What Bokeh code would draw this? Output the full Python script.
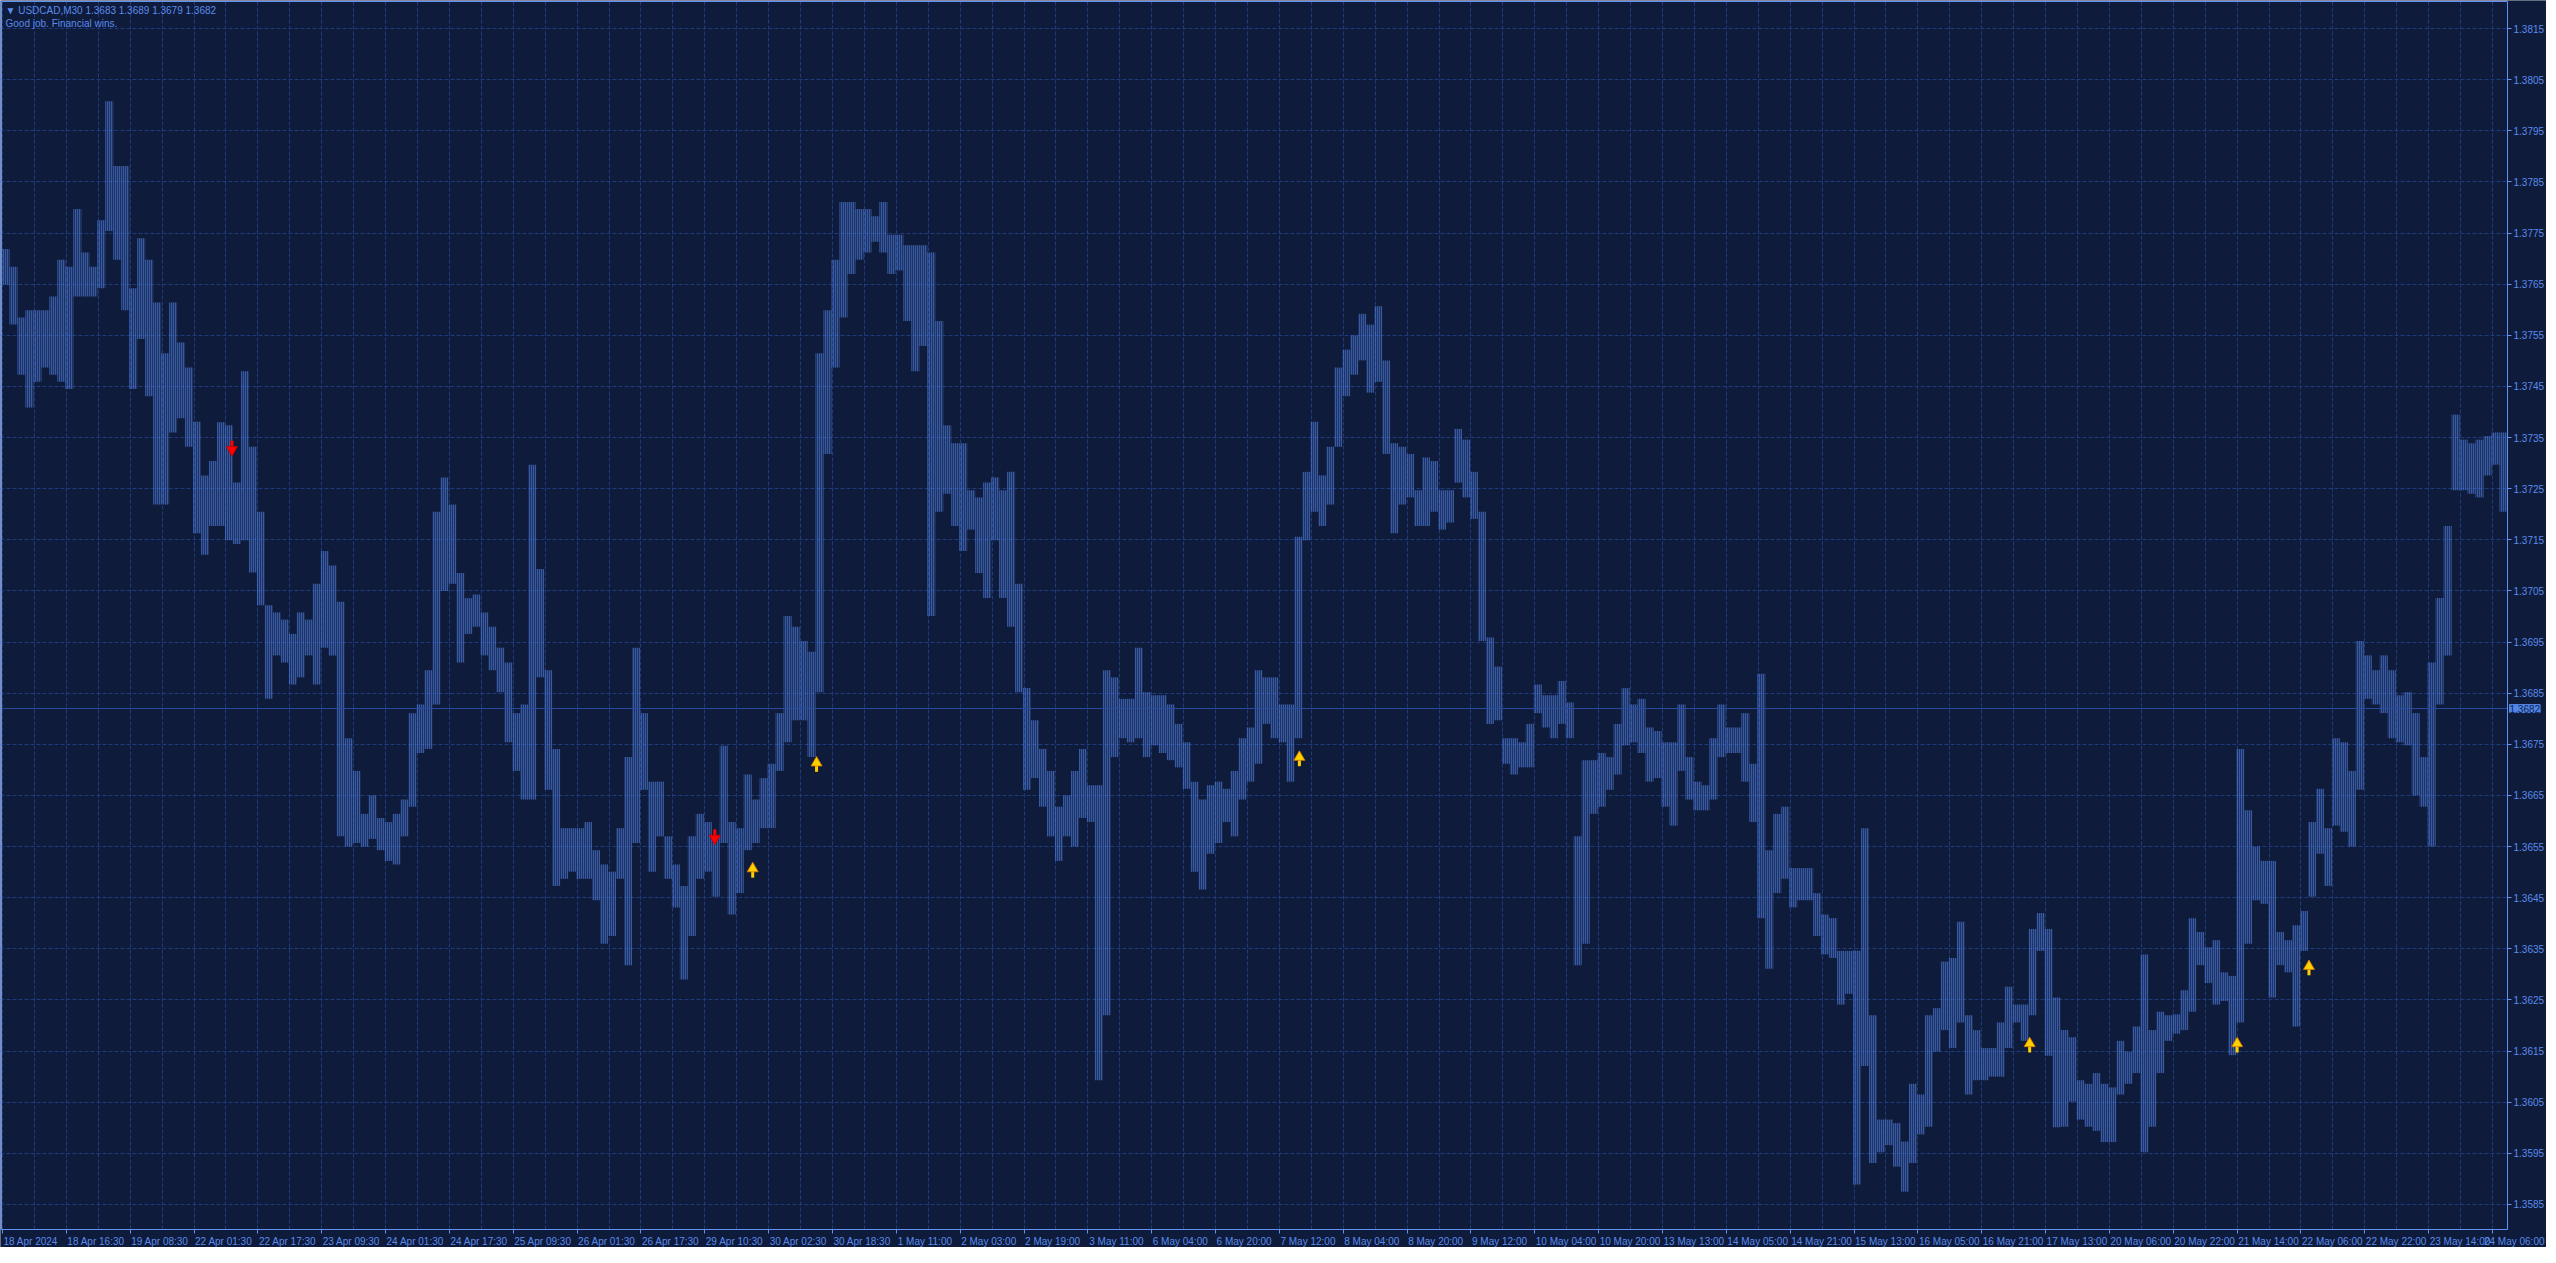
import numpy as np
from bokeh.plotting import figure
from bokeh.models import Range1d, FixedTicker, Label, PrintfTickFormatter, ColumnDataSource
from bokeh.core.properties import value
from bokeh.embed import file_html
from bokeh.resources import INLINE

# ---------------- data ----------------
symbol = "USDCAD,M30"
quote = [1.3683, 1.3689, 1.3679, 1.3682]   # O H L C shown in header
last_price = 1.3682
comment = "Good job. Financial wins."

bars_per_sample = 4   # each sample = high/low envelope over 4 M30 bars

high = [
    1.37719, 1.37684, 1.37585, 1.37599, 1.37599, 1.37599, 1.37626, 1.37698, 1.37684, 1.37797,
    1.37712, 1.37684, 1.37775, 1.38008, 1.37881, 1.37881, 1.37642, 1.37740, 1.37698, 1.37614,
    1.37515, 1.37614, 1.37536, 1.37487, 1.37381, 1.37276, 1.37304, 1.37380, 1.37374, 1.37262,
    1.37480, 1.37332, 1.37205, 1.37022, 1.37008, 1.36994, 1.36966, 1.37008, 1.36994, 1.37064,
    1.37128, 1.37100, 1.37029, 1.36762, 1.36698, 1.36614, 1.36650, 1.36606, 1.36598, 1.36614,
    1.36642, 1.36811, 1.36828, 1.36895, 1.37205, 1.37272, 1.37219, 1.37085, 1.37036, 1.37043,
    1.37008, 1.36980, 1.36939, 1.36910, 1.36811, 1.36828, 1.37297, 1.37093, 1.36895, 1.36741,
    1.36586, 1.36586, 1.36586, 1.36598, 1.36543, 1.36515, 1.36501, 1.36586, 1.36725, 1.36939,
    1.36811, 1.36677, 1.36677, 1.36570, 1.36515, 1.36473, 1.36570, 1.36614, 1.36598, 1.36570,
    1.36747, 1.36598, 1.36586, 1.36691, 1.36642, 1.36684, 1.36712, 1.36811, 1.37001, 1.36980,
    1.36952, 1.36931, 1.37515, 1.37599, 1.37698, 1.37811, 1.37811, 1.37797, 1.37797, 1.37783,
    1.37811, 1.37747, 1.37747, 1.37726, 1.37726, 1.37726, 1.37712, 1.37578, 1.37374, 1.37339,
    1.37339, 1.37247, 1.37233, 1.37262, 1.37272, 1.37247, 1.37283, 1.37064, 1.36860, 1.36797,
    1.36741, 1.36698, 1.36628, 1.36650, 1.36698, 1.36741, 1.36670, 1.36670, 1.36895, 1.36881,
    1.36839, 1.36839, 1.36939, 1.36852, 1.36846, 1.36846, 1.36828, 1.36790, 1.36754, 1.36677,
    1.36642, 1.36670, 1.36677, 1.36663, 1.36698, 1.36762, 1.36783, 1.36895, 1.36881, 1.36881,
    1.36828, 1.36828, 1.37156, 1.37283, 1.37381, 1.37276, 1.37332, 1.37487, 1.37522, 1.37550,
    1.37592, 1.37571, 1.37607, 1.37501, 1.37339, 1.37332, 1.37318, 1.37247, 1.37311, 1.37304,
    1.37247, 1.37247, 1.37367, 1.37346, 1.37283, 1.37205, 1.36959, 1.36902, 1.36762, 1.36762,
    1.36754, 1.36790, 1.36867, 1.36846, 1.36846, 1.36874, 1.36832, 1.36570, 1.36719, 1.36719,
    1.36733, 1.36725, 1.36790, 1.36860, 1.36828, 1.36839, 1.36783, 1.36776, 1.36754, 1.36754,
    1.36828, 1.36725, 1.36677, 1.36670, 1.36762, 1.36828, 1.36783, 1.36783, 1.36811, 1.36712,
    1.36888, 1.36543, 1.36614, 1.36628, 1.36508, 1.36508, 1.36508, 1.36459, 1.36417, 1.36410,
    1.36346, 1.36346, 1.36346, 1.36586, 1.36220, 1.36016, 1.36016, 1.36009, 1.35973, 1.36086,
    1.36065, 1.36220, 1.36234, 1.36325, 1.36332, 1.36403, 1.36220, 1.36191, 1.36156, 1.36156,
    1.36206, 1.36276, 1.36241, 1.36241, 1.36389, 1.36420, 1.36389, 1.36255, 1.36191, 1.36177,
    1.36093, 1.36086, 1.36107, 1.36086, 1.36079, 1.36170, 1.36149, 1.36198, 1.36339, 1.36191,
    1.36227, 1.36220, 1.36222, 1.36269, 1.36410, 1.36383, 1.36353, 1.36367, 1.36304, 1.36297,
    1.36741, 1.36621, 1.36550, 1.36522, 1.36522, 1.36383, 1.36367, 1.36396, 1.36424, 1.36598,
    1.36663, 1.36586, 1.36762, 1.36754, 1.36698, 1.36952, 1.36924, 1.36895, 1.36924, 1.36895,
    1.36846, 1.36852, 1.36811, 1.36725, 1.36910, 1.37036, 1.37177, 1.37395, 1.37346, 1.37339,
    1.37346, 1.37353, 1.37360, 1.37360,
]

low = [
    1.37649, 1.37571, 1.37473, 1.37409, 1.37459, 1.37487, 1.37473, 1.37459, 1.37445, 1.37626,
    1.37626, 1.37626, 1.37642, 1.37754, 1.37698, 1.37599, 1.37445, 1.37543, 1.37431, 1.37219,
    1.37219, 1.37360, 1.37388, 1.37332, 1.37163, 1.37121, 1.37177, 1.37177, 1.37149, 1.37142,
    1.37149, 1.37086, 1.37022, 1.36839, 1.36924, 1.36910, 1.36867, 1.36881, 1.36924, 1.36867,
    1.36939, 1.36924, 1.36570, 1.36550, 1.36557, 1.36550, 1.36565, 1.36543, 1.36522, 1.36515,
    1.36570, 1.36628, 1.36733, 1.36741, 1.36828, 1.37050, 1.37064, 1.36910, 1.36966, 1.36980,
    1.36924, 1.36895, 1.36852, 1.36754, 1.36698, 1.36642, 1.36642, 1.36881, 1.36661, 1.36473,
    1.36487, 1.36501, 1.36487, 1.36487, 1.36445, 1.36360, 1.36375, 1.36487, 1.36318, 1.36557,
    1.36661, 1.36501, 1.36570, 1.36487, 1.36431, 1.36290, 1.36375, 1.36487, 1.36501, 1.36452,
    1.36557, 1.36417, 1.36459, 1.36543, 1.36557, 1.36586, 1.36586, 1.36698, 1.36754, 1.36797,
    1.36797, 1.36725, 1.36852, 1.37318, 1.37487, 1.37585, 1.37670, 1.37698, 1.37712, 1.37733,
    1.37712, 1.37670, 1.37677, 1.37578, 1.37480, 1.37529, 1.37001, 1.37205, 1.37240, 1.37177,
    1.37128, 1.37170, 1.37085, 1.37036, 1.37149, 1.37036, 1.36980, 1.36852, 1.36661, 1.36684,
    1.36628, 1.36570, 1.36522, 1.36570, 1.36550, 1.36606, 1.36598, 1.36093, 1.36220, 1.36725,
    1.36762, 1.36754, 1.36762, 1.36725, 1.36748, 1.36733, 1.36719, 1.36705, 1.36663, 1.36501,
    1.36466, 1.36536, 1.36557, 1.36598, 1.36570, 1.36642, 1.36677, 1.36712, 1.36790, 1.36762,
    1.36754, 1.36677, 1.36762, 1.37149, 1.37205, 1.37177, 1.37219, 1.37332, 1.37431, 1.37473,
    1.37501, 1.37438, 1.37459, 1.37318, 1.37163, 1.37219, 1.37233, 1.37177, 1.37177, 1.37205,
    1.37170, 1.37184, 1.37262, 1.37233, 1.37191, 1.36952, 1.36790, 1.36797, 1.36712, 1.36691,
    1.36705, 1.36705, 1.36811, 1.36783, 1.36762, 1.36790, 1.36762, 1.36318, 1.36360, 1.36614,
    1.36628, 1.36661, 1.36691, 1.36748, 1.36754, 1.36733, 1.36677, 1.36684, 1.36628, 1.36591,
    1.36698, 1.36642, 1.36621, 1.36621, 1.36642, 1.36725, 1.36733, 1.36733, 1.36677, 1.36598,
    1.36410, 1.36311, 1.36459, 1.36487, 1.36431, 1.36445, 1.36445, 1.36375, 1.36339, 1.36332,
    1.36241, 1.36262, 1.35889, 1.36121, 1.35931, 1.35952, 1.35966, 1.35924, 1.35875, 1.35931,
    1.35987, 1.36002, 1.36149, 1.36191, 1.36156, 1.36206, 1.36065, 1.36093, 1.36093, 1.36100,
    1.36100, 1.36156, 1.36206, 1.36170, 1.36220, 1.36346, 1.36141, 1.36001, 1.36002, 1.36051,
    1.36016, 1.36002, 1.35994, 1.35972, 1.35972, 1.36065, 1.36086, 1.36107, 1.35952, 1.36002,
    1.36107, 1.36170, 1.36184, 1.36191, 1.36227, 1.36318, 1.36283, 1.36241, 1.36248, 1.36142,
    1.36206, 1.36360, 1.36445, 1.36438, 1.36255, 1.36318, 1.36304, 1.36198, 1.36346, 1.36452,
    1.36536, 1.36473, 1.36591, 1.36579, 1.36550, 1.36661, 1.36839, 1.36828, 1.36811, 1.36762,
    1.36754, 1.36748, 1.36650, 1.36628, 1.36550, 1.36828, 1.36924, 1.37247, 1.37247, 1.37240,
    1.37233, 1.37276, 1.37297, 1.37205,
]

# signal arrows: bar index and price
sell_bar = [115, 357]
sell_price = [1.37332, 1.36572]
buy_bar = [376, 408, 650, 1016, 1120, 1156]
buy_price = [1.36501, 1.36708, 1.36719, 1.36159, 1.36159, 1.36310]

time_labels = [
    "18 Apr 2024", "18 Apr 16:30", "19 Apr 08:30", "22 Apr 01:30", "22 Apr 17:30",
    "23 Apr 09:30", "24 Apr 01:30", "24 Apr 17:30", "25 Apr 09:30", "26 Apr 01:30",
    "26 Apr 17:30", "29 Apr 10:30", "30 Apr 02:30", "30 Apr 18:30", "1 May 11:00",
    "2 May 03:00", "2 May 19:00", "3 May 11:00", "6 May 04:00", "6 May 20:00",
    "7 May 12:00", "8 May 04:00", "8 May 20:00", "9 May 12:00", "10 May 04:00",
    "10 May 20:00", "13 May 13:00", "14 May 05:00", "14 May 21:00", "15 May 13:00",
    "16 May 05:00", "16 May 21:00", "17 May 13:00", "20 May 06:00", "20 May 22:00",
    "21 May 14:00", "22 May 06:00", "22 May 22:00", "23 May 14:00", "24 May 06:00",
]
bars_per_label = 32
bars_per_grid = 16

price_ticks = [1.3585, 1.3595, 1.3605, 1.3615, 1.3625, 1.3635, 1.3645, 1.3655, 1.3665, 1.3675,
               1.3685, 1.3695, 1.3705, 1.3715, 1.3725, 1.3735, 1.3745, 1.3755, 1.3765, 1.3775,
               1.3785, 1.3795, 1.3805, 1.3815]

# ---------------- style / layout ----------------
BG = "#0f1b3a"
GRID = "#1f3b7c"
FRAME = "#5f92f2"
TXT = "#5b8ced"
BAR = "#4f80e2"
FONT = "Liberation Sans"
FONT_PX = 10
CANVAS_W, CANVAS_H = 2546, 1247      # whole figure (page margin 8px)
BAR_W_PX, BAR_H_PX = 2506, 1228      # chart window inside the figure
Y0, Y1 = 1.35801, 1.38203            # price window

n = len(high)
total_bars = n * bars_per_sample
x0, x1 = -0.5, total_bars - 0.5
px_per_bar = BAR_W_PX / (x1 - x0)
ppp = (Y1 - Y0) / BAR_H_PX           # price per pixel

xr = Range1d(x0 - 1 / px_per_bar, x0 - 1 / px_per_bar + CANVAS_W / px_per_bar)
yr = Range1d(Y1 + ppp - CANVAS_H * ppp, Y1 + ppp)

x_center = np.arange(n) * bars_per_sample + (bars_per_sample - 1) / 2.0
src = ColumnDataSource(dict(x=x_center, top=high, bottom=low))

p = figure(frame_width=CANVAS_W, frame_height=CANVAS_H, x_range=xr, y_range=yr,
           y_axis_location="right", title=None,
           output_backend="svg", toolbar_location=None,
           background_fill_color=BG, border_fill_color=BG,
           min_border_left=0, min_border_top=0, min_border_right=0, min_border_bottom=0)
p.outline_line_color = None

# bars: envelope of 4 bars, textured with 1px vertical lines every 2px (like single M30 bars)
p.vbar(x="x", top="top", bottom="bottom", width=bars_per_sample, source=src,
       fill_color=BAR, fill_alpha=0.24, line_color=None,
       hatch_pattern="vertical_line", hatch_scale=2, hatch_weight=1,
       hatch_color=BAR, hatch_alpha=1.0)

# current price line (chart window only)
p.segment(x0=[x0], y0=[last_price], x1=[x1], y1=[last_price], line_color="#2a4d9e", line_width=1)

# mask grid outside the chart window (price scale + time scale strips)
p.quad(left=[x1, xr.start], right=[xr.end, x1], bottom=[yr.start, yr.start], top=[yr.end, Y0],
       fill_color=BG, line_color=None)
# chart window border
p.quad(left=[x0], right=[x1], bottom=[Y0], top=[Y1], fill_color=None, line_color=FRAME, line_width=1)

# ---- axes drawn at the chart window edges ----
_adv = {" ": 278, ":": 278, "A": 667, "M": 833, "p": 556, "r": 333, "a": 556, "y": 500}
def text_px(s):
    return sum(_adv.get(c, 556) for c in s) * FONT_PX / 1000.0

label_ticks = [i * bars_per_label for i in range(len(time_labels))]
label_pos = []
for t, s in zip(label_ticks, time_labels):
    half = (text_px(s) / 2.0 + 1) / px_per_bar
    label_pos.append(min(t + half, xr.end - half - 1.0 / px_per_bar))
grid_ticks = list(range(0, total_bars + 1, bars_per_grid))

p.xaxis.fixed_location = Y0
p.xaxis.ticker = FixedTicker(ticks=label_pos, minor_ticks=label_ticks)
p.xaxis.major_label_overrides = {pos: s for pos, s in zip(label_pos, time_labels)}
p.xaxis.major_tick_line_color = None
p.xaxis.minor_tick_line_color = FRAME
p.xaxis.minor_tick_out = 4
p.xaxis.minor_tick_in = 0
p.xaxis.major_tick_out = 4
p.xaxis.major_tick_in = 0

p.yaxis.fixed_location = x1
p.yaxis.ticker = FixedTicker(ticks=price_ticks)
p.yaxis.formatter = PrintfTickFormatter(format="%.4f")
p.yaxis.major_tick_out = 4
p.yaxis.major_tick_in = 0
p.yaxis.minor_tick_out = 0
p.yaxis.minor_tick_in = 0
p.yaxis.major_tick_line_color = FRAME
for ax in (p.xaxis, p.yaxis):
    ax.axis_line_color = None
    ax.major_label_text_color = TXT
    ax.major_label_text_font = FONT
    ax.major_label_text_font_size = f"{FONT_PX}px"
    ax.major_label_standoff = 2

p.xgrid.ticker = FixedTicker(ticks=grid_ticks)
p.xgrid.grid_line_color = GRID
p.xgrid.grid_line_dash = "4 2"
p.ygrid.grid_line_color = GRID
p.ygrid.grid_line_dash = "4 2"

# signal arrows (head + shaft)
up_head = [v + 3.0 * ppp for v in buy_price]
up_shaft = [v - 2.5 * ppp for v in buy_price]
dn_head = [v - 3.0 * ppp for v in sell_price]
dn_shaft = [v + 2.5 * ppp for v in sell_price]
p.rect(x=buy_bar, y=up_shaft, width=3, height=7, width_units="screen", height_units="screen",
       fill_color="#ffd000", line_color=None)
p.scatter(x=buy_bar, y=up_head, marker="triangle", size=11,
          fill_color="#ffd000", line_color="#e07800", line_width=0.8)
p.rect(x=sell_bar, y=dn_shaft, width=3, height=7, width_units="screen", height_units="screen",
       fill_color="#ff0000", line_color=None)
p.scatter(x=sell_bar, y=dn_head, marker="inverted_triangle", size=11,
          fill_color="#ff0000", line_color="#c00000", line_width=0.8)

# header
header = "\u25BC " + symbol + "  " + " ".join(f"{q:.4f}" for q in quote)
p.add_layout(Label(x=x0, y=Y1, x_offset=4, y_offset=-9, text=header,
                   text_color=TXT, text_font=FONT, text_font_size="10px",
                   text_baseline="middle"))
p.add_layout(Label(x=x0, y=Y1, x_offset=4, y_offset=-22, text=comment,
                   text_color=TXT, text_font=FONT, text_font_size="10px",
                   text_baseline="middle"))

# last price tag on the price scale
p.add_layout(Label(x=x1, y=last_price, x_offset=2, text=f"{last_price:.4f}",
                   text_color="#10224f", text_font=FONT, text_font_size="10px",
                   text_baseline="middle", background_fill_color="#4f86e8",
                   border_line_color="#4f86e8", level="overlay"))

open("out.html", "w").write(file_html(p, INLINE))
